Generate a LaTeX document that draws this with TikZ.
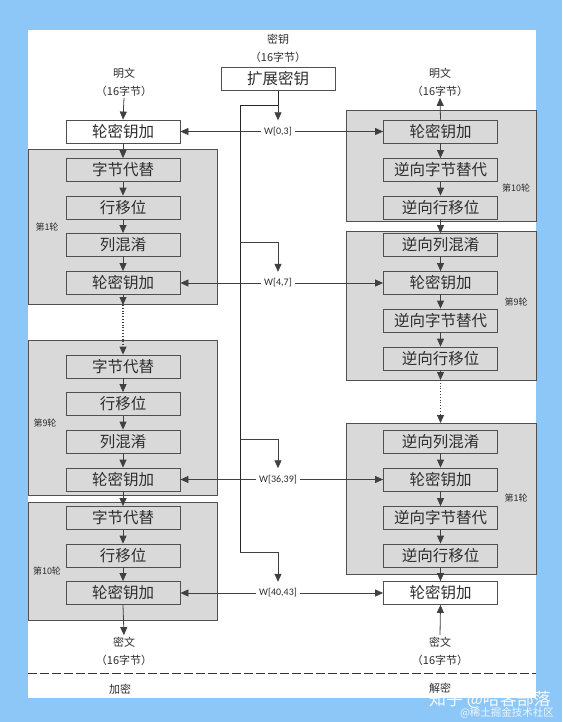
\documentclass[tikz,border=0pt]{standalone}
\usepackage{fontspec}
\newfontfamily\cjk{Noto Sans CJK SC}
\newfontfamily\wfont{Carlito}
\usetikzlibrary{arrows.meta}
\definecolor{bgblue}{RGB}{141,199,247}
\definecolor{grayfill}{RGB}{217,217,217}
\definecolor{boxline}{RGB}{80,80,80}
\definecolor{arrcol}{RGB}{64,64,64}
\definecolor{txt}{RGB}{45,45,45}
\tikzset{
  stepbox/.style={draw=boxline, line width=0.8pt, minimum width=114pt, minimum height=23pt,
    inner sep=0pt, text=txt, font=\cjk\fontsize{15.5}{16}\selectfont},
  gstep/.style={stepbox, fill=grayfill},
  wstep/.style={stepbox, fill=white},
  grayarea/.style={fill=grayfill, draw=boxline, line width=0.8pt},
  lbl/.style={text=txt, align=center, inner sep=1.5pt, font=\cjk\fontsize{11}{18}\selectfont},
  rnd/.style={text=txt, inner sep=0pt, font=\cjk\fontsize{9}{10}\selectfont},
  wlbl/.style={text=txt, inner xsep=3pt, inner ysep=0pt, minimum height=22pt, font=\wfont\fontsize{10}{10}\selectfont},
  arr/.style={draw=arrcol, line width=0.8pt, -{Triangle[length=8pt,width=7pt]}},
  ln/.style={draw=black!85, line width=0.8pt},
}
\begin{document}
\begin{tikzpicture}[x=1pt,y=-1pt]
\useasboundingbox (0,0) rectangle (562,722);
\fill[bgblue] (0,0) rectangle (562,722);
\fill[white] (28,30) rectangle (536,698);

% gray round areas
\path[grayarea] (28,149) rectangle (217,304);
\path[grayarea] (28,340) rectangle (217,495);
\path[grayarea] (28,502) rectangle (217,620);
\path[grayarea] (346,110) rectangle (536,221);
\path[grayarea] (346,231) rectangle (536,380);
\path[grayarea] (346,423) rectangle (536,574);

% round labels
\node[rnd] (rl1) at (47,227) {第1轮};
\node[rnd] (rl9) at (45,423) {第9轮};
\node[rnd] (rl10) at (47,571) {第10轮};
\node[rnd] (rr10) at (516,188) {第10轮};
\node[rnd] (rr9) at (516,302) {第9轮};
\node[rnd] (rr1) at (516,498) {第1轮};

% top / bottom labels
\node[lbl] (key) at (278,48) {密钥\\（16字节）};
\node[wstep] (exp) at (278,79) {扩展密钥};
\node[lbl] (pt1) at (124,82) {明文\\（16字节）};
\node[lbl] (pt2) at (440,82) {明文\\（16字节）};
\node[lbl] (ct1) at (124,651) {密文\\（16字节）};
\node[lbl] (ct2) at (440,651) {密文\\（16字节）};
\node[lbl] (enc) at (120,689) {加密};
\node[lbl] (dec) at (440,688) {解密};

% left column (encryption)
\node[wstep] (L0) at (123,131.5) {轮密钥加};
\node[gstep] (L1a) at (123,170) {字节代替};
\node[gstep] (L1b) at (123,207.5) {行移位};
\node[gstep] (L1c) at (123,245) {列混淆};
\node[gstep] (L1d) at (123,283) {轮密钥加};
\node[gstep] (L9a) at (123,366.5) {字节代替};
\node[gstep] (L9b) at (123,404) {行移位};
\node[gstep] (L9c) at (123,441.5) {列混淆};
\node[gstep] (L9d) at (123,479.5) {轮密钥加};
\node[gstep] (L10a) at (123,518) {字节代替};
\node[gstep] (L10b) at (123,555.5) {行移位};
\node[gstep] (L10c) at (123,593) {轮密钥加};

% right column (decryption)
\node[gstep] (R10a) at (440.5,131.5) {轮密钥加};
\node[gstep] (R10b) at (440.5,170) {逆向字节替代};
\node[gstep] (R10c) at (440.5,207.5) {逆向行移位};
\node[gstep] (R9a) at (440.5,245) {逆向列混淆};
\node[gstep] (R9b) at (440.5,283) {轮密钥加};
\node[gstep] (R9c) at (440.5,320.5) {逆向字节替代};
\node[gstep] (R9d) at (440.5,358.5) {逆向行移位};
\node[gstep] (R1a) at (440.5,441.5) {逆向列混淆};
\node[gstep] (R1b) at (440.5,479.5) {轮密钥加};
\node[gstep] (R1c) at (440.5,518) {逆向字节替代};
\node[gstep] (R1d) at (440.5,555.5) {逆向行移位};
\node[wstep] (RF) at (440.5,593) {轮密钥加};

% key schedule labels
\node[wlbl] (w0) at (278,131.5) {W[0,3]};
\node[wlbl] (w1) at (278,283) {W[4,7]};
\node[wlbl] (w2) at (278,479.5) {W[36,39]};
\node[wlbl] (w3) at (278,593) {W[40,43]};

\coordinate (k0) at (278,105);
\coordinate (kl0) at (240,105);
\coordinate (kl1) at (240,242);
\coordinate (kl2) at (240,439);
\coordinate (kl3) at (240,552);

% key lines
\draw[ln] (exp.south) -- (k0);
\draw[ln] (k0) -- (kl0) -- (kl3);
\draw[arr] (k0) -- (w0.north);
\draw[arr] (kl1) -| (w1.north);
\draw[arr] (kl2) -| (w2.north);
\draw[arr] (kl3) -| (w3.north);
\foreach \w/\l/\r in {w0/L0/R10a, w1/L1d/R9b, w2/L9d/R1b, w3/L10c/RF}{
  \draw[arr] (\w.west) -- (\l.east);
  \draw[arr] (\w.east) -- (\r.west);
}

% left chain
\draw[arr] (pt1.south) -- (L0.north);
\draw[arr] (L0) -- (L1a);
\draw[arr] (L1a) -- (L1b);
\draw[arr] (L1b) -- (L1c);
\draw[arr] (L1c) -- (L1d);
\coordinate (ld) at (123,305);
\draw[arr] (L1d.south) -- (ld);
\draw[arr, dotted, line width=1.1pt] (ld) -- (L9a.north);
\draw[arr] (L9a) -- (L9b);
\draw[arr] (L9b) -- (L9c);
\draw[arr] (L9c) -- (L9d);
\draw[arr] (L9d) -- (L10a);
\draw[arr] (L10a) -- (L10b);
\draw[arr] (L10b) -- (L10c);
\draw[arr] (L10c.south) -- (ct1.north);

% right chain
\draw[arr] (R10a.north) -- (pt2.south);
\draw[arr] (R10a) -- (R10b);
\draw[arr] (R10b) -- (R10c);
\draw[arr] (R10c) -- (R9a);
\draw[arr] (R9a) -- (R9b);
\draw[arr] (R9b) -- (R9c);
\draw[arr] (R9c) -- (R9d);
\coordinate (rd) at (440.5,380);
\coordinate (rd2) at (440.5,423);
\draw[arr] (R9d.south) -- (rd);
\draw[arr, dotted, line width=1.1pt] (rd) -- (rd2);
\draw[arr] (R1a) -- (R1b);
\draw[arr] (R1b) -- (R1c);
\draw[arr] (R1c) -- (R1d);
\draw[arr] (R1d) -- (RF);
\draw[arr] (ct2.north) -- (RF.south);

% separator
\draw[draw=black!80, line width=0.8pt, dash pattern=on 9pt off 3pt] (28,673) -- (536,673);

% watermark
\node[text=white, opacity=0.9, inner sep=0pt, font=\cjk\fontsize{17}{18}\selectfont] (wm1) at (490,700) {知乎 @哈客部落};
\node[text=white, opacity=0.85, inner sep=0pt, font=\cjk\fontsize{10.5}{11}\selectfont] (wm2) at (507,713) {@稀土掘金技术社区};
\end{tikzpicture}
\end{document}
